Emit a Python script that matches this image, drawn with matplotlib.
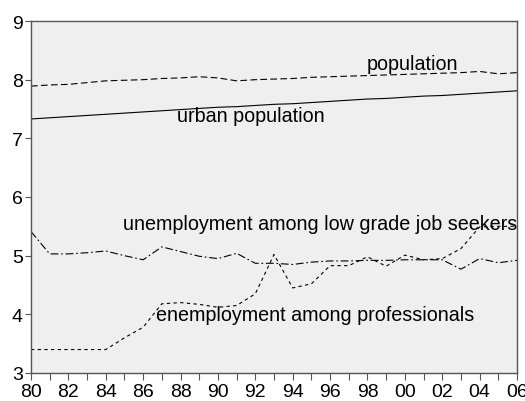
import matplotlib.pyplot as plt
import numpy as np

plt.rcParams['font.family'] = ['Liberation Sans', 'DejaVu Sans']

years = np.arange(1980, 2007)

population = [7.89, 7.91, 7.92, 7.95, 7.98, 7.99, 8.00, 8.02, 8.03, 8.05,
              8.03, 7.98, 8.00, 8.01, 8.02, 8.04, 8.05, 8.06, 8.07, 8.08,
              8.09, 8.10, 8.11, 8.12, 8.14, 8.10, 8.12]
urban_population = [7.33, 7.35, 7.37, 7.39, 7.41, 7.43, 7.45, 7.47, 7.49, 7.51,
                    7.53, 7.54, 7.56, 7.58, 7.59, 7.61, 7.63, 7.65, 7.67, 7.68,
                    7.70, 7.72, 7.73, 7.75, 7.77, 7.79, 7.81]
low_grade = [5.41, 5.03, 5.03, 5.05, 5.08, 5.00, 4.93, 5.15, 5.07, 4.99,
             4.95, 5.04, 4.87, 4.87, 4.85, 4.89, 4.91, 4.91, 4.92, 4.92,
             4.93, 4.93, 4.93, 4.77, 4.95, 4.88, 4.92]
professionals = [3.40, 3.40, 3.40, 3.40, 3.40, 3.60, 3.78, 4.18, 4.20, 4.17,
                 4.12, 4.15, 4.35, 5.02, 4.45, 4.52, 4.83, 4.83, 4.98, 4.82,
                 5.01, 4.93, 4.95, 5.12, 5.49, 5.50, 5.50]

fig = plt.figure(figsize=(5.25, 4.02), dpi=100)
ax = fig.add_axes([31 / 525, 28 / 402, 486 / 525, 352 / 402])
ax.set_facecolor('#efefef')

lw = 0.8
ax.plot(years, population, color='black', lw=lw, dashes=(6, 3))
ax.plot(years, urban_population, color='black', lw=lw)
ax.plot(years, low_grade, color='black', lw=lw, dashes=(7, 2.5, 1.5, 2.5))
ax.plot(years, professionals, color='black', lw=lw, dashes=(3, 3))

fs = 14.2
ax.text(2000.4, 8.12, 'population', fontsize=fs, ha='center', va='bottom')
ax.text(1987.8, 7.39, 'urban population', fontsize=fs, ha='left', va='center')
ax.text(1984.9, 5.55, 'unemployment among low grade job seekers',
        fontsize=fs, ha='left', va='center')
ax.text(1986.7, 4.0, 'enemployment among professionals',
        fontsize=fs, ha='left', va='center')

ax.set_xlim(1980, 2006)
ax.set_ylim(3, 9)
ax.set_xticks(years)
ax.set_xticklabels([f'{y % 100:02d}' if y % 2 == 0 else '' for y in years])
ax.set_yticks(range(3, 10))
ax.tick_params(axis='both', direction='out', labelsize=14, color='#555555',
               top=False, right=False)
ax.tick_params(axis='x', length=5, pad=2)
ax.tick_params(axis='y', length=4, pad=2)
for s in ax.spines.values():
    s.set_color('#555555')
    s.set_linewidth(1.0)

fig.savefig('out.png', dpi=100)
